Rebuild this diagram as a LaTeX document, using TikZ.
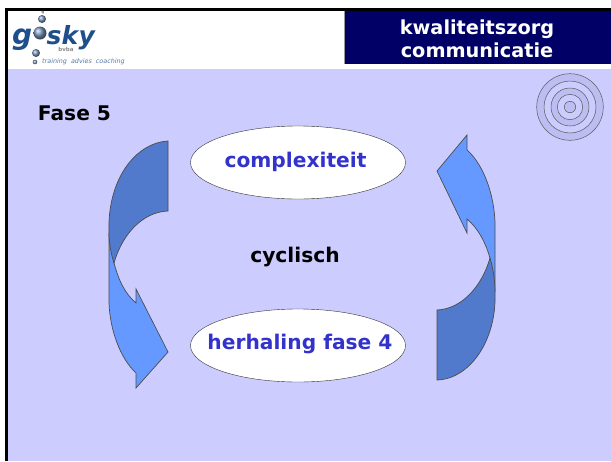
\documentclass[tikz,border=0pt]{standalone}
\usepackage{fontspec}
\setmainfont{DejaVu Sans}
\usetikzlibrary{shapes.geometric}
\definecolor{paneel}{HTML}{CCCCFF}
\definecolor{ringband}{HTML}{BDBDF2}
\definecolor{kopblauw}{HTML}{000066}
\definecolor{pijldonker}{HTML}{527ACC}
\definecolor{pijllicht}{HTML}{6699FF}
\definecolor{tekstblauw}{HTML}{3333CC}
\definecolor{logoblauw}{HTML}{1F4E8C}
\tikzset{
  pijl/.style={draw=black!70,line width=0.7pt,line join=miter},
  wolk/.style={draw=black!80,fill=white,ellipse,minimum width=215pt,minimum height=73pt,inner sep=0pt},
  wolktekst/.style={font=\fontsize{20.2}{24}\selectfont\bfseries,text=tekstblauw},
  label/.style={font=\fontsize{20.2}{24}\selectfont\bfseries,text=black},
  logoletter/.style={text=logoblauw,inner sep=0pt,font=\fontsize{25}{26}\selectfont\bfseries\itshape},
  bol/.style={ball color=logoblauw!60!white,draw=none,shading=ball},
  ring/.style={draw=black!65,line width=0.5pt}
}
\begin{document}
\begin{tikzpicture}[x=1pt,y=-1pt]
\useasboundingbox (0,0) rectangle (611,461);
% achtergrond
\fill[white] (0,0) rectangle (611,461);
\fill[paneel] (6,69) rectangle (611,461);
\draw[black,line width=2.4pt] (6.3,461) -- (6.3,9.5) -- (611,9.5);
\fill[kopblauw] (345,11) rectangle (611,64);
\draw[black!40] (344.5,11) -- (344.5,64);
\node[align=center,text=white,font=\fontsize{19.3}{23}\selectfont\bfseries] (kop) at (477,38.5) {kwaliteitszorg\\communicatie};
% logo
\node[logoletter,anchor=base west,font=\fontsize{28}{29}\selectfont\bfseries\itshape] (logog) at (12,44) {g};
\node[logoletter,anchor=base west] (logosk) at (46.5,44) {sk};
\node[logoletter,anchor=base west] (logoy) at (logosk.base east) {y};
\node[text=black!45,inner sep=0pt,font=\fontsize{5.5}{7}\selectfont\bfseries,anchor=north] (logobvba) at (66,47.5) {bvba};
\node[text=logoblauw!75,inner sep=0pt,font=\fontsize{6.4}{8}\selectfont\itshape,anchor=west] (logotekst) at (42,62) {training\ \ advies\ \ coaching};
\shade[bol] (40,33) circle (6.5);
\shade[bol] (42,19) circle (4);
\shade[bol] (43,12) circle (1.6);
\shade[bol] (36,53) circle (4);
\shade[bol] (35,62) circle (2.3);
% ringen
\filldraw[ring,fill=ringband] (570,107) circle (33.3);
\filldraw[ring,fill=paneel] (570,107) circle (26);
\filldraw[ring,fill=ringband] (570,107) circle (19);
\filldraw[ring,fill=paneel] (570,107) circle (12.7);
\filldraw[ring,fill=ringband] (570,107) circle (5.7);
% pijlen
\filldraw[pijl,fill=pijllicht] (109,233) .. controls (109,240) and (109,290) .. (109,303)
  .. controls (110,330) and (120,358) .. (136,373) -- (136,388) -- (168,352) -- (136,289) -- (136,303)
  .. controls (124,293) and (118,278) .. (114,263) -- cycle;
\filldraw[pijl,fill=pijldonker] (168,141) .. controls (135,143) and (107,180) .. (109,233)
  .. controls (109,243) and (111,254) .. (114,263) .. controls (122,235) and (142,212) .. (168,211) -- cycle;
\filldraw[pijl,fill=pijllicht] (495,292) .. controls (495,280) and (495,235) .. (495,222)
  .. controls (494,195) and (484,165) .. (467,150) -- (467,135) -- (437,171) -- (467,233) -- (467,219)
  .. controls (479,229) and (486,244) .. (490,258) -- cycle;
\filldraw[pijl,fill=pijldonker] (437,380) .. controls (470,379) and (497,340) .. (495,292)
  .. controls (495,280) and (493,268) .. (490,258) .. controls (482,286) and (462,309) .. (437,310) -- cycle;
% teksten
\node[wolk] (complex) at (298,162.5) {};
\node[wolktekst] (complextekst) at (295.5,162) {complexiteit};
\node[wolk] (herhaling) at (298,345.5) {};
\node[wolktekst] (herhalingtekst) at (300,344.5) {herhaling fase 4};
\node[label] (cyclisch) at (295,257) {cyclisch};
\node[label] (fase) at (74.5,113) {Fase 5};
\end{tikzpicture}
\end{document}
